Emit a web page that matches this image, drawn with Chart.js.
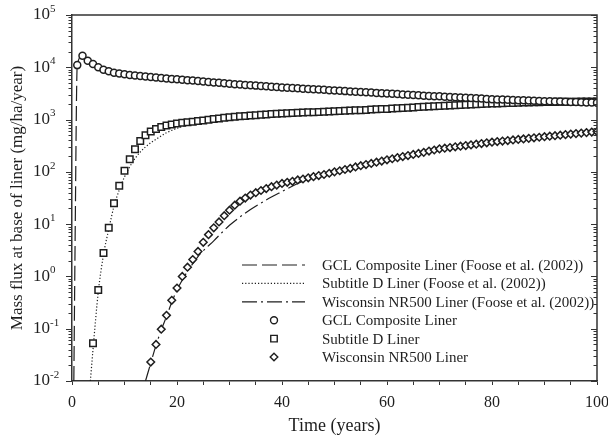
<!DOCTYPE html>
<html>
<head>
<meta charset="utf-8">
<script src="https://cdn.jsdelivr.net/npm/chart.js@4/dist/chart.umd.min.js"></script>
<style>
  html, body { margin: 0; padding: 0; background: #fff; }
  #wrap { width: 608px; height: 437px; position: relative; }
</style>
</head>
<body>
<div id="wrap"><canvas id="fluxChart"></canvas></div>
<script>
// time axis (years) for the model markers
const years = [1,2,3,4,5,6,7,8,9,10,11,12,13,14,15,16,17,18,19,20,
  21,22,23,24,25,26,27,28,29,30,31,32,33,34,35,36,37,38,39,40,
  41,42,43,44,45,46,47,48,49,50,51,52,53,54,55,56,57,58,59,60,
  61,62,63,64,65,66,67,68,69,70,71,72,73,74,75,76,77,78,79,80,
  81,82,83,84,85,86,87,88,89,90,91,92,93,94,95,96,97,98,99,100];

// GCL composite liner, markers from year 1
const gclFlux = [11000,16600,13400,11500,10000,9000,8400,7900,7600,7350,
  7150,7000,6800,6650,6500,6350,6220,6100,6000,5900,
  5800,5680,5560,5450,5340,5240,5140,5040,4940,4840,
  4740,4670,4600,4530,4460,4390,4320,4250,4180,4110,
  4060,4010,3960,3900,3850,3800,3750,3700,3650,3600,
  3550,3500,3450,3400,3360,3320,3280,3240,3200,3150,
  3110,3070,3030,2990,2950,2910,2870,2830,2800,2780,
  2740,2710,2680,2640,2610,2580,2550,2520,2480,2450,
  2430,2410,2390,2370,2350,2330,2310,2290,2270,2250,
  2235,2220,2205,2190,2175,2160,2145,2130,2115,2100];

// Subtitle D liner, markers from year 4
const subDFlux = [0.053,0.55,2.8,8.5,25,54,105,175,270,390,
  500,590,660,720,770,805,840,865,890,912,
  935,960,990,1020,1050,1080,1110,1135,1155,1175,
  1195,1215,1235,1255,1275,1290,1310,1322,1335,1348,
  1361,1374,1387,1400,1413,1426,1440,1455,1470,1485,
  1500,1515,1530,1550,1570,1585,1600,1620,1640,1660,
  1685,1710,1735,1760,1785,1800,1820,1840,1860,1880,
  1900,1920,1940,1960,1980,2000,2020,2035,2050,2065,
  2080,2095,2110,2125,2140,2155,2170,2175,2180,2185,
  2190,2195,2200,2205,2210,2215,2220];

// Wisconsin NR500 liner, markers from year 15
const wiscFlux = [0.023,0.05,0.098,0.18,0.35,0.6,1.0,1.5,2.1,3.0,
  4.5,6.3,8.5,11,14.5,18.5,23,27.5,31.5,36,
  40,44,48,52,56,60,63,66,70,73,
  77,81,85,89,94,100,105,111,117,124,
  131,138,145,153,161,170,178,187,196,205,
  215,225,236,250,262,275,283,292,301,310,
  319,328,338,348,359,370,379,388,397,407,
  417,427,437,448,459,470,481,492,503,515,
  527,539,551,563,576,590];

// Foose et al. (2002) curves
const gclLineT = [0.35,0.5,0.65,0.8,0.9,1,2,3,4,5,7,10,15,20,30,40,50,60,70,80,90,100];
const gclLineV = [0.01,0.5,20,800,5000,11000,16600,13400,11500,10000,8400,7350,6500,5900,4840,4110,3600,3150,2780,2450,2250,2100];

const subDLineT = [3.5,4,5,6,7,8,9,10,11,12,13,14,15,16,18,20,22,24,26,28,30,40,50,60,70,80,90,100];
const subDLineV = [0.01,0.04,0.5,2.6,8,22,45,80,125,180,240,300,360,420,560,680,790,880,960,1030,1100,1310,1440,1600,1820,2020,2170,2220];

const wiscLineT = [14,15,16,17,18,19,20,21,22,23,24,25,27,30,34,37,40,43,46,50,60,70,80,90,100];
const wiscLineV = [0.01,0.022,0.048,0.095,0.17,0.32,0.55,0.85,1.25,1.75,2.4,3.1,4.8,9.5,19,29,42,60,80,100,170,275,370,470,590];

const xTickLabels = [0, 20, 40, 60, 80, 100];
const yDecades = [-2, -1, 0, 1, 2, 3, 4, 5];

const legendLabels = [
  "GCL Composite Liner (Foose et al. (2002))",
  "Subtitle D Liner (Foose et al. (2002))",
  "Wisconsin NR500 Liner (Foose et al. (2002))",
  "GCL Composite Liner",
  "Subtitle D Liner",
  "Wisconsin NR500 Liner"
];

const ink = "#1e1e1e";
const serif = "'Liberation Serif', 'Times New Roman', serif";

const pts = (t, v) => v.map((y, i) => ({ x: t[i], y }));

function lineSet(label, t, v, dash) {
  return {
    label, data: pts(t, v), showLine: true, borderColor: ink, borderWidth: 1.2,
    borderDash: dash, pointRadius: 0, pointHoverRadius: 0, fill: false,
    cubicInterpolationMode: "monotone", order: 2
  };
}
function markSet(label, v, start, style, r) {
  return {
    label, data: pts(years.slice(start - 1), v), showLine: false,
    pointStyle: style, pointRadius: r, pointBorderWidth: 1.5,
    borderColor: ink, backgroundColor: "#fff", order: 1
  };
}

const datasets = [
  lineSet(legendLabels[0], gclLineT, gclLineV, [15, 5]),
  lineSet(legendLabels[1], subDLineT, subDLineV, [1.2, 2]),
  lineSet(legendLabels[2], wiscLineT, wiscLineV, [15, 4, 2, 4]),
  markSet(legendLabels[3], gclFlux, 1, "circle", 3.5),
  markSet(legendLabels[4], subDFlux, 4, "rect", 4.6),
  markSet(legendLabels[5], wiscFlux, 15, "rectRot", 3.8)
];

function drawMarker(ctx, style, r, x, y) {
  ctx.beginPath();
  if (style === "circle") {
    ctx.arc(x, y, r, 0, Math.PI * 2);
  } else if (style === "rect") {
    const s = r * Math.SQRT1_2;
    ctx.rect(x - s, y - s, 2 * s, 2 * s);
  } else {
    ctx.moveTo(x, y - r); ctx.lineTo(x + r, y); ctx.lineTo(x, y + r); ctx.lineTo(x - r, y); ctx.closePath();
  }
  ctx.fillStyle = "#fff"; ctx.fill(); ctx.stroke();
}

// frame, right-side ticks, y labels with exponents and the inside legend
const decor = {
  id: "decor",
  afterDraw(chart) {
    const { ctx, chartArea: a, scales: { y } } = chart;
    ctx.save();
    ctx.strokeStyle = "#333";
    ctx.lineWidth = 1.5;
    ctx.beginPath();
    ctx.moveTo(a.left, a.top); ctx.lineTo(a.right, a.top); ctx.lineTo(a.right, a.bottom);
    ctx.stroke();

    ctx.lineWidth = 1;
    y.ticks.forEach(t => {
      const py = Math.round(y.getPixelForValue(t.value)) + 0.5;
      const out = t.major ? 6 : 3.5;
      ctx.beginPath();
      ctx.moveTo(a.left - out, py); ctx.lineTo(a.left, py);
      ctx.moveTo(a.right, py); ctx.lineTo(a.right - out, py);
      ctx.stroke();
    });

    ctx.fillStyle = ink;
    ctx.textBaseline = "middle";
    yDecades.forEach(e => {
      const py = y.getPixelForValue(Math.pow(10, e));
      const xb = a.left - 22;
      ctx.font = "17px " + serif;
      ctx.textAlign = "right";
      ctx.fillText("10", xb, py);
      ctx.font = "11px " + serif;
      ctx.textAlign = "left";
      ctx.fillText(String(e), xb, py - 6);
    });

    // legend
    const rowY = 265, step = 18.4;
    ctx.font = "15px " + serif;
    ctx.textAlign = "left";
    ctx.strokeStyle = ink;
    chart.data.datasets.forEach((ds, i) => {
      const ly = rowY + i * step;
      ctx.lineWidth = ds.showLine ? 1.2 : 1.4;
      if (ds.showLine) {
        ctx.setLineDash(ds.borderDash);
        ctx.beginPath(); ctx.moveTo(242, ly); ctx.lineTo(305, ly); ctx.stroke();
        ctx.setLineDash([]);
      } else {
        drawMarker(ctx, ds.pointStyle, ds.pointRadius, 274, ly);
      }
      ctx.fillStyle = ink;
      ctx.fillText(ds.label, 322, ly + 1);
    });
    ctx.restore();
  }
};

new Chart(document.getElementById("fluxChart"), {
  type: "scatter",
  data: { datasets },
  options: {
    responsive: true,
    maintainAspectRatio: false,
    animation: false,
    events: [],
    layout: { padding: { top: 15, right: 11, left: 0, bottom: 0 } },
    plugins: { legend: { display: false }, tooltip: { enabled: false } },
    scales: {
      x: {
        type: "linear", min: 0, max: 100,
        border: { color: "#333", width: 1.5 },
        grid: { drawOnChartArea: false, drawTicks: true, tickLength: 4, color: "#333", lineWidth: 1 },
        ticks: {
          stepSize: 5, autoSkip: false, maxRotation: 0, padding: 8, color: ink,
          font: { family: serif, size: 16 },
          callback: v => xTickLabels.includes(v) ? String(v) : ""
        },
        title: { display: true, text: "Time (years)", color: ink, font: { family: serif, size: 18 }, padding: { top: 4, bottom: 0 } },
        afterFit: s => { s.height = 56; s.paddingLeft = 0; s.paddingRight = 0; }
      },
      y: {
        type: "logarithmic", min: 0.01, max: 100000,
        border: { color: "#333", width: 1.5 },
        grid: { drawOnChartArea: false, drawTicks: false },
        ticks: { display: false, autoSkip: false },
        afterBuildTicks: axis => {
          const list = [];
          yDecades.forEach(e => {
            list.push({ value: Math.pow(10, e), major: true });
            if (e < 5) for (let m = 2; m <= 9; m++) list.push({ value: m * Math.pow(10, e), major: false });
          });
          axis.ticks = list;
        },
        title: { display: true, text: "Mass flux at base of liner (mg/ha/year)", color: ink, font: { family: serif, size: 17 }, padding: { top: 7, bottom: 0 } },
        afterFit: s => { s.width = 72; s.paddingTop = 0; s.paddingBottom = 0; }
      }
    }
  },
  plugins: [decor]
});
</script>
</body>
</html>
